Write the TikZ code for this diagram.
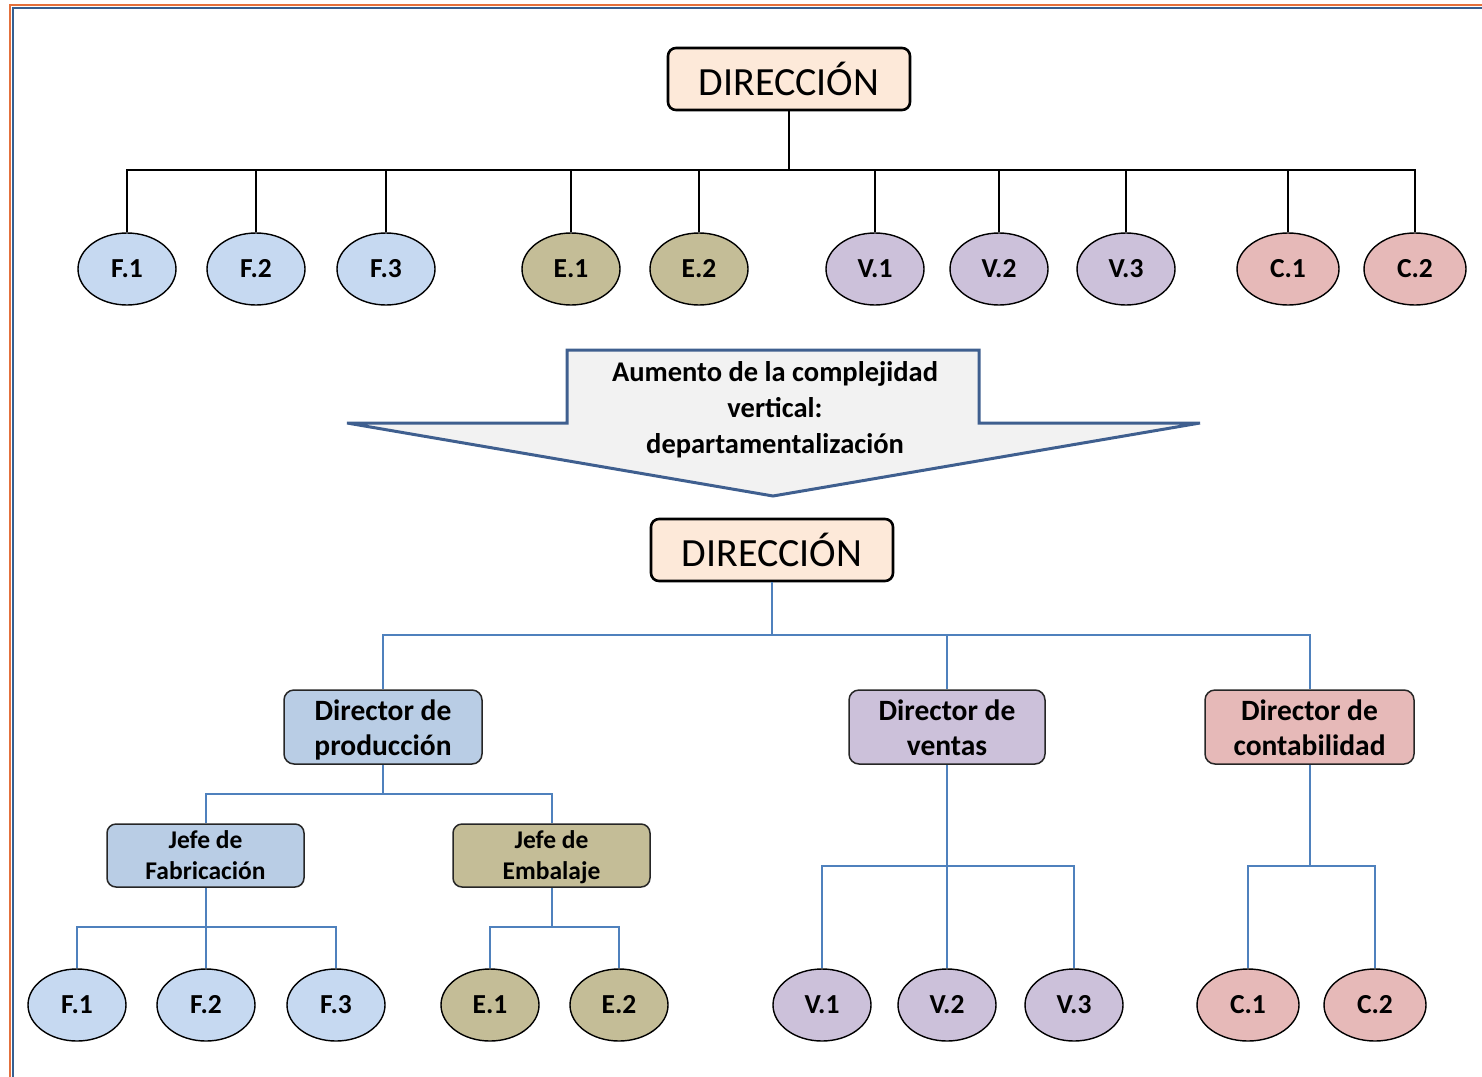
\documentclass[tikz,border=0pt]{standalone}
\usepackage{fontspec}
\setmainfont{Carlito}
\usetikzlibrary{shapes.geometric}

\definecolor{peach}{HTML}{FDE9D9}
\definecolor{fblue}{HTML}{C6D9F1}
\definecolor{dblue}{HTML}{B9CDE5}
\definecolor{olive}{HTML}{C4BD97}
\definecolor{lavender}{HTML}{CCC1DA}
\definecolor{rose}{HTML}{E6B9B8}
\definecolor{linkblue}{HTML}{4F81BD}
\definecolor{arrowedge}{HTML}{3F5F8F}
\definecolor{arrowfill}{HTML}{F2F2F2}
\definecolor{frameorange}{HTML}{E4703C}
\definecolor{frameblue}{HTML}{365F91}

% two text lines with fixed outer height and depth, so every box sets them alike
\newcommand\twolines[2]{\rule{0pt}{30pt}#1\\#2\rule[-9pt]{0pt}{9pt}}
\newcommand\twolinessmall[2]{\rule{0pt}{24pt}#1\\#2\rule[-8pt]{0pt}{8pt}}

\tikzset{
  topbox/.style={draw=black, line width=2.6pt, fill=peach, rounded corners=8pt,
    minimum width=242pt, minimum height=62pt, inner sep=0pt,
    font=\fontsize{40}{46}\selectfont},
  unit/.style={ellipse, draw=black, line width=1.4pt, minimum width=98pt,
    minimum height=72pt, inner sep=0pt, font=\bfseries\fontsize{27.5}{30}\selectfont},
  unitw/.style={unit, minimum width=102pt},
  dirbox/.style={draw=black!85, line width=1.5pt, rounded corners=10pt,
    minimum height=72pt, inner sep=0pt, align=center,
    font=\bfseries\fontsize{29.5}{35}\selectfont},
  jefebox/.style={draw=black!85, line width=1.5pt, rounded corners=9pt,
    minimum width=197pt, minimum height=61pt, inner sep=0pt, align=center,
    font=\bfseries\fontsize{25.5}{31}\selectfont},
  blk/.style={draw=black, line width=2pt},
  blu/.style={draw=linkblue, line width=2pt},
}

\begin{document}
\begin{tikzpicture}[x=1pt, y=-1pt]
\useasboundingbox (0,0) rectangle (1482,1076);

% page frame
\draw[frameorange, line width=2.2pt] (10,1080) -- (10,5) -- (1490,5);
\draw[frameblue, line width=2pt] (13.2,1080) -- (13.2,8.2) -- (1490,8.2);

% ---------- functional chart ----------
\node[topbox] (dirA) at (789,79) {DIRECCIÓN};

\node[unit, fill=fblue]    (tF1) at (127,269)  {F.1};
\node[unit, fill=fblue]    (tF2) at (256,269)  {F.2};
\node[unit, fill=fblue]    (tF3) at (386,269)  {F.3};
\node[unit, fill=olive]    (tE1) at (571,269)  {E.1};
\node[unit, fill=olive]    (tE2) at (699,269)  {E.2};
\node[unit, fill=lavender] (tV1) at (875,269)  {V.1};
\node[unit, fill=lavender] (tV2) at (999,269)  {V.2};
\node[unit, fill=lavender] (tV3) at (1126,269) {V.3};
\node[unitw, fill=rose]    (tC1) at (1288,269) {C.1};
\node[unitw, fill=rose]    (tC2) at (1415,269) {C.2};

\coordinate (barT) at (0,170);
\draw[blk] (dirA.south) -- (dirA.south |- barT);
\draw[blk] (tF1.north) -- (tF1.north |- barT) -- (tC2.north |- barT) -- (tC2.north);
\foreach \n in {tF2,tF3,tE1,tE2,tV1,tV2,tV3,tC1}
  \draw[blk] (\n.north) -- (\n.north |- barT);

% ---------- transition arrow ----------
\draw[draw=arrowedge, fill=arrowfill, line width=3pt, line join=miter]
  (567,350) -- (979,350) -- (979,423) -- (1200,423) -- (773,496)
  -- (347,423) -- (567,423) -- cycle;
\node[align=center, font=\bfseries\fontsize{28.5}{36}\selectfont] (lbl) at (775,410)
  {Aumento de la complejidad\\vertical:\\departamentalización};

% ---------- departmental chart ----------
\node[topbox] (dirB) at (772,550) {DIRECCIÓN};

\node[dirbox, fill=dblue, minimum width=198pt]    (dp) at (383,727)    {\twolines{Director de}{producción}};
\node[dirbox, fill=lavender, minimum width=196pt] (dv) at (947,727)    {\twolines{Director de}{ventas}};
\node[dirbox, fill=rose, minimum width=209pt]     (dc) at (1309.5,727) {\twolines{Director de}{contabilidad}};

\node[jefebox, fill=dblue] (jf) at (205.5,855.5) {\twolinessmall{Jefe de}{Fabricación}};
\node[jefebox, fill=olive] (je) at (551.5,855.5) {\twolinessmall{Jefe de}{Embalaje}};

\node[unit, fill=fblue]    (bF1) at (77,1005)   {F.1};
\node[unit, fill=fblue]    (bF2) at (206,1005)  {F.2};
\node[unit, fill=fblue]    (bF3) at (336,1005)  {F.3};
\node[unit, fill=olive]    (bE1) at (490,1005)  {E.1};
\node[unit, fill=olive]    (bE2) at (619,1005)  {E.2};
\node[unit, fill=lavender] (bV1) at (822,1005)  {V.1};
\node[unit, fill=lavender] (bV2) at (947,1005)  {V.2};
\node[unit, fill=lavender] (bV3) at (1074,1005) {V.3};
\node[unitw, fill=rose]    (bC1) at (1248,1005) {C.1};
\node[unitw, fill=rose]    (bC2) at (1375,1005) {C.2};

% direction -> directors
\coordinate (barD) at (0,635);
\draw[blu] (dirB.south) -- (dirB.south |- barD);
\draw[blu] (dp.north) -- (dp.north |- barD) -- (dc.north |- barD) -- (dc.north);
\draw[blu] (dv.north) -- (dv.north |- barD);

% production -> heads
\coordinate (barP) at (0,794);
\draw[blu] (dp.south) -- (dp.south |- barP);
\draw[blu] (jf.north) -- (jf.north |- barP) -- (je.north |- barP) -- (je.north);

% heads -> units
\coordinate (barJ) at (0,927);
\draw[blu] (jf.south) -- (jf.south |- barJ);
\draw[blu] (bF1.north) -- (bF1.north |- barJ) -- (bF3.north |- barJ) -- (bF3.north);
\draw[blu] (bF2.north) -- (bF2.north |- barJ);
\draw[blu] (je.south) -- (je.south |- barJ);
\draw[blu] (bE1.north) -- (bE1.north |- barJ) -- (bE2.north |- barJ) -- (bE2.north);

% sales and accounting -> units
\coordinate (barV) at (0,866);
\draw[blu] (dv.south) -- (bV2.north);
\draw[blu] (bV1.north) -- (bV1.north |- barV) -- (bV3.north |- barV) -- (bV3.north);
\draw[blu] (dc.south) -- (dc.south |- barV);
\draw[blu] (bC1.north) -- (bC1.north |- barV) -- (bC2.north |- barV) -- (bC2.north);
\end{tikzpicture}
\end{document}
